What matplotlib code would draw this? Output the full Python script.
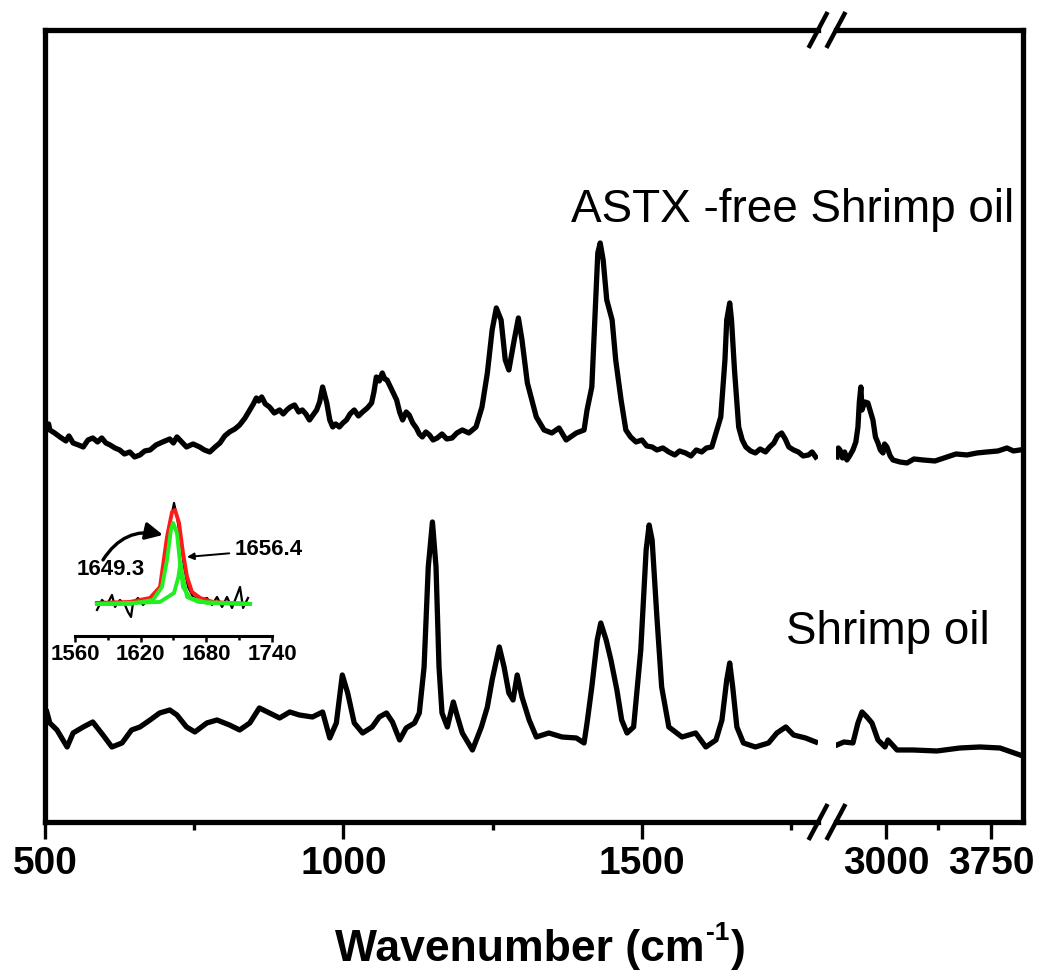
import matplotlib.pyplot as plt
from matplotlib.lines import Line2D
from matplotlib.ticker import FixedLocator

plt.rcParams['font.family'] = ['Liberation Sans', 'DejaVu Sans']

# ---- ASTX-free shrimp oil (top trace), low wavenumber part
astx_x1 = [503, 506, 508, 516, 525, 535, 540, 547, 556, 564, 572, 580, 588, 595, 602, 609,
           617, 625, 633, 642, 650, 659, 667, 676, 686, 697, 709, 715, 721, 729, 737, 748,
           759, 767, 776, 785, 793, 801, 809, 818, 826, 835, 843, 849, 854, 858, 863, 869,
           876, 884, 893, 899, 905, 911, 918, 925, 931, 937, 943, 949, 955, 960, 965, 968,
           972, 977, 982, 987, 993, 999, 1005, 1011, 1018, 1025, 1032, 1040, 1047, 1051,
           1055, 1060, 1065, 1069, 1073, 1081, 1089, 1094, 1099, 1105, 1110, 1116, 1122,
           1127, 1132, 1138, 1144, 1150, 1157, 1165, 1173, 1182, 1190, 1199, 1210, 1222,
           1232, 1241, 1249, 1256, 1264, 1271, 1277, 1286, 1293, 1299, 1308, 1323, 1336,
           1349, 1361, 1373, 1390, 1403, 1408, 1416, 1421, 1426, 1430, 1435, 1441, 1450,
           1456, 1465, 1473, 1481, 1490, 1500, 1508, 1517, 1525, 1535, 1545, 1555, 1563,
           1573, 1582, 1591, 1600, 1608, 1617, 1632, 1639, 1642, 1647, 1650, 1655, 1662,
           1668, 1674, 1682, 1690, 1698, 1707, 1714, 1721, 1727, 1734, 1740, 1746, 1754,
           1762, 1770, 1779, 1785, 1791]
astx_y1 = [394, 398, 392, 389, 385, 381, 386, 379, 377, 375, 382, 384, 380, 384, 379, 377,
           374, 372, 368, 370, 365, 367, 371, 372, 377, 380, 383, 379, 385, 380, 375, 378,
           375, 372, 370, 375, 379, 386, 390, 393, 397, 404, 412, 418, 424, 421, 425, 418,
           415, 409, 412, 408, 412, 415, 417, 410, 412, 408, 402, 407, 412, 420, 435, 428,
           419, 402, 395, 398, 395, 399, 402, 408, 412, 406, 410, 414, 419, 430,
           445, 441, 449, 443, 442, 432, 422, 410, 402, 410, 407, 399, 394,
           388, 385, 390, 387, 382, 384, 388, 383, 384, 389, 392, 389, 395,
           415, 449, 492, 514, 502, 462, 452, 482, 504, 482, 439, 405, 392,
           389, 394, 382, 389, 392, 412, 435, 502, 569, 579, 562, 522, 502,
           462, 422, 392, 385, 380, 382, 376, 375, 372, 374, 370, 367, 371,
           369, 366, 372, 370, 374, 375, 405, 462, 502, 519, 502, 452, 395,
           382, 375, 371, 369, 373, 370, 375, 379, 386, 389, 383, 375, 372,
           370, 366, 367, 370, 365]
# high wavenumber part
astx_x2 = [2650, 2660, 2672, 2690, 2705, 2721, 2740, 2764, 2785, 2800, 2810, 2821, 2829,
           2836, 2850, 2871, 2890, 2907, 2925, 2943, 2960, 2979, 2990, 3007, 3030, 3050,
           3100, 3150, 3200, 3264, 3350, 3436, 3500, 3578, 3650, 3721, 3800, 3864, 3910, 3957]
astx_y2 = [365, 374, 372, 364, 370, 362, 366, 372, 380, 395, 420, 435, 412,
           415, 420, 419, 410, 402, 385, 379, 372, 369, 378, 375, 366, 362,
           360, 359, 363, 362, 361, 365, 368, 367, 369, 370, 371, 374, 371, 372]

# ---- Shrimp oil (bottom trace)
oil_x1 = [503, 508, 520, 537, 547, 564, 580, 597, 612, 629, 645, 659, 676, 692, 709, 721,
          737, 751, 771, 788, 809, 826, 843, 859, 876, 893, 910, 926, 948, 965, 977, 988,
          998, 1007, 1018, 1032, 1048, 1060, 1072, 1082, 1094, 1105, 1119, 1127, 1135, 1142,
          1149, 1155, 1160, 1165, 1174, 1184, 1191, 1199, 1216, 1231, 1241, 1249, 1261, 1269,
          1277, 1284, 1291, 1299, 1311, 1323, 1344, 1366, 1390, 1403, 1408, 1416, 1425, 1431,
          1440, 1448, 1458, 1466, 1475, 1486, 1498, 1507, 1512, 1517, 1525, 1533, 1545, 1567,
          1590, 1607, 1624, 1634, 1642, 1647, 1652, 1659, 1670, 1690, 1712, 1726, 1741, 1754,
          1774, 1791]
oil_y1 = [110, 99, 92, 75, 89, 95, 100, 87, 75, 79, 92, 95, 102, 109, 112, 107,
          95, 90, 99, 102, 97, 92, 99, 114, 109, 104, 110, 107, 105, 110, 84, 99,
          147, 129, 99, 89, 95, 105, 109, 100, 82, 94, 99, 109, 155, 255,
          300, 255, 155, 109, 95, 120, 105, 89, 72, 95, 115, 142, 175, 155,
          129, 122, 147, 125, 102, 85, 89, 85, 84, 79, 99, 135, 182, 199,
          182, 162, 132, 102, 89, 95, 172, 272, 297, 282, 205, 135, 95, 85,
          89, 75, 82, 102, 142, 159, 135, 95, 79, 75, 79, 89, 95, 87,
          84, 80]
oil_x2 = [2650, 2700, 2764, 2800, 2829, 2864, 2900, 2943, 2993, 3014, 3079, 3193, 3364, 3528,
          3671, 3814, 3957]
oil_y2 = [77, 80, 79, 99, 110, 105, 99, 82, 75, 82, 72, 72, 71, 74, 75, 74, 67]

# ---- inset: C=C band of shrimp oil with fitted components
ins_x = [1580.1, 1584.7, 1589.2, 1593.8, 1596.6, 1601.1, 1605.7, 1608.4, 1611.2, 1613.0,
         1617.6, 1622.2, 1626.7, 1633.1, 1637.7, 1642.3, 1646.8, 1650.5, 1653.2, 1656.9,
         1659.6, 1663.3, 1667.9, 1674.3, 1680.6, 1685.2, 1689.8, 1694.4, 1698.9, 1703.5,
         1708.1, 1710.8, 1713.6, 1718.1]
ins_y = [26, 36, 31, 41, 29, 36, 31, 24, 19, 33, 38, 31, 36, 39, 46, 73, 113, 133, 119, 93,
         69, 49, 39, 36, 38, 31, 39, 29, 39, 28, 41, 49, 28, 38]
fit_x = [1580, 1610, 1628.6, 1637.7, 1644.1, 1648.7, 1651.4, 1655.1, 1658.7, 1662.4,
         1666.9, 1674.3, 1686.1, 1700, 1720]
fit_y = [33, 34, 38, 49, 99, 124, 126, 113, 83, 59, 44, 38, 34, 33, 32]
pk1_x = [1580, 1610.3, 1631.3, 1639.5, 1644.1, 1647.7, 1649.6, 1653.2, 1656, 1658.7,
         1665.1, 1680.6, 1720]
pk1_y = [32, 32, 36, 49, 76, 106, 113, 103, 73, 49, 38, 33, 32]
pk2_x = [1580, 1637.7, 1650.5, 1654.5, 1656.4, 1659, 1662.5, 1673, 1720]
pk2_y = [32, 34, 43, 59, 73, 56, 39, 34, 32]

fig = plt.figure(figsize=(10.4, 9.76), dpi=100)
ax1 = fig.add_axes([0.0433, 0.1578, 0.7433, 0.8115])
ax2 = fig.add_axes([0.8038, 0.1578, 0.1798, 0.8115], sharey=ax1)
ax2.patch.set_visible(False)

ax1.plot(astx_x1, astx_y1, color='black', lw=3.8, solid_joinstyle='round')
ax1.plot(oil_x1, oil_y1, color='black', lw=3.8, solid_joinstyle='round')
ax2.plot(astx_x2, astx_y2, color='black', lw=3.8, solid_joinstyle='round')
ax2.plot(oil_x2, oil_y2, color='black', lw=3.8, solid_joinstyle='round')

ax1.set_xlim(500, 1795)
ax2.set_xlim(2643, 3978)
ax1.set_ylim(0, 792)
ax1.spines['right'].set_visible(False)
ax2.spines['left'].set_visible(False)

ax1.set_xticks([500, 1000, 1500])
ax1.xaxis.set_minor_locator(FixedLocator([750, 1250, 1750]))
ax2.set_xticks([3000, 3750])
ax2.xaxis.set_minor_locator(FixedLocator([3375]))
for ax in (ax1, ax2):
    for s in ax.spines.values():
        s.set_linewidth(3.8)
    ax.tick_params(axis='x', which='major', length=12, width=2.4, direction='out',
                   labelsize=28, pad=5)
    ax.tick_params(axis='x', which='minor', length=6, width=2.4, direction='out')
    ax.tick_params(axis='y', left=False, right=False, labelleft=False)
    for lab in ax.get_xticklabels():
        lab.set_fontweight('bold')

# break marks
p1 = ax1.get_position()
p2 = ax2.get_position()
dx, dy = 8.5 / 1040, 16 / 976
for xc in (p1.x1, p2.x0):
    for yc in (p1.y0, p1.y1):
        fig.add_artist(Line2D([xc - dx, xc + dx], [yc - dy, yc + dy], color='black', lw=3.2,
                              transform=fig.transFigure))

ax1.text(1381, 612, 'ASTX -free Shrimp oil', fontsize=33, va='center', ha='left',
         clip_on=False, zorder=5)
ax1.text(1741, 190, 'Shrimp oil', fontsize=33, va='center', ha='left',
         clip_on=False, zorder=5)

# x label with a plain hyphen in the superscript
t1 = fig.text(0.322, 0.015, 'Wavenumber (cm', fontsize=32, fontweight='bold',
              ha='left', va='baseline')
t2 = ax1.annotate('-1', xy=(1, 1), xycoords=t1, xytext=(1, 6), textcoords='offset points',
                  fontsize=19, fontweight='bold', ha='left', va='top', annotation_clip=False)
ax1.annotate(')', xy=(1, 0), xycoords=(t2, t1), xytext=(1, 0), textcoords='offset points',
             fontsize=32, fontweight='bold', ha='left', va='bottom', annotation_clip=False)

# inset
axi = fig.add_axes([0.0721, 0.3484, 0.1894, 0.1445])
axi.set_facecolor('none')
axi.plot(ins_x, ins_y, color='black', lw=1.6)
axi.plot(fit_x, fit_y, color='#ff1a1a', lw=2.8)
axi.plot(pk1_x, pk1_y, color='#22ee22', lw=2.8)
axi.plot(pk2_x, pk2_y, color='#22ee22', lw=2.8)
axi.set_xlim(1560, 1740)
axi.set_ylim(0, 141)
for k in ('left', 'right', 'top'):
    axi.spines[k].set_visible(False)
axi.spines['bottom'].set_linewidth(2.2)
axi.set_xticks([1560, 1620, 1680, 1740])
axi.xaxis.set_minor_locator(FixedLocator([1590, 1650, 1710]))
axi.tick_params(axis='x', which='major', length=4, width=1.8, labelsize=16, pad=2)
axi.tick_params(axis='x', which='minor', length=3, width=1.8)
axi.tick_params(axis='y', left=False, labelleft=False)
for lab in axi.get_xticklabels():
    lab.set_fontweight('bold')
axi.annotate('1656.4', xy=(1662.4, 79), xytext=(1706, 86), fontsize=16, fontweight='bold',
             ha='left', va='center', annotation_clip=False,
             arrowprops=dict(arrowstyle='-|>', color='black', lw=1.4, mutation_scale=10,
                             shrinkA=2, shrinkB=0))
axi.text(1561.8, 66, '1649.3', fontsize=16, fontweight='bold', ha='left', va='center')
axi.annotate('', xy=(1640.4, 101), xytext=(1585.6, 76), annotation_clip=False,
             arrowprops=dict(arrowstyle='-|>', color='black', lw=2.4, mutation_scale=26,
                             connectionstyle='arc3,rad=-0.35', shrinkA=0, shrinkB=0))

fig.savefig('out.png', dpi=100)
